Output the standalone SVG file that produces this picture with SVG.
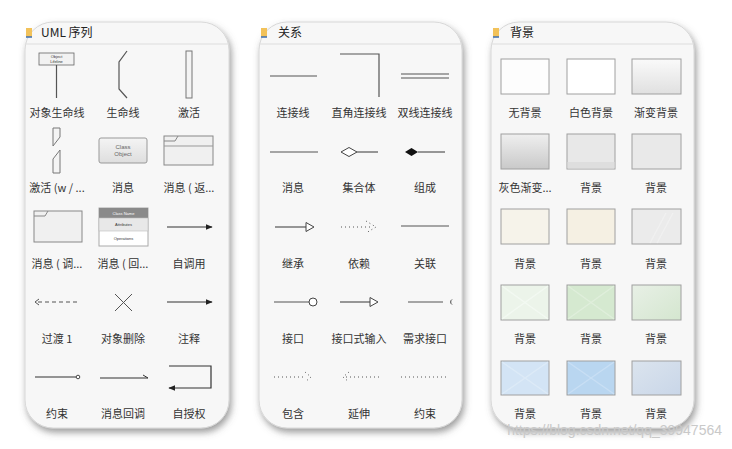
<svg xmlns="http://www.w3.org/2000/svg" width="732" height="449" viewBox="0 0 732 449">
<style>
.lbl{font-family:"Noto Sans CJK SC","Liberation Sans",sans-serif;font-size:11px;fill:#333;text-anchor:middle}
.hdr{font-family:"Noto Sans CJK SC","Liberation Sans",sans-serif;font-size:12px;fill:#222}
.ln{stroke:#555;stroke-width:1.2;fill:none}
.dk{stroke:#333;stroke-width:1.2;fill:none}
.dot{stroke:#555;stroke-width:1;fill:none;stroke-dasharray:1 3}
.bg{stroke:#a0a0a0;stroke-width:1}
.tiny{font-family:"Liberation Sans",sans-serif;font-size:4px;fill:#333;text-anchor:middle}
.sm{font-family:"Liberation Sans",sans-serif;font-size:6px;fill:#666;text-anchor:middle}
.panel{fill:#f7f7f7;stroke:#d8d8d8;stroke-width:1}
.xp{stroke-width:1.5;opacity:0.6;fill:none}
</style>
<defs>
<filter id="sh" x="-10%" y="-10%" width="125%" height="125%">
<feDropShadow dx="2" dy="4" stdDeviation="3.5" flood-color="#5a5a5a" flood-opacity="0.6"/>
</filter>
<marker id="af" viewBox="0 0 10 10" refX="9" refY="5" markerWidth="7" markerHeight="7" orient="auto" markerUnits="userSpaceOnUse">
<path d="M0,1 L10,5 L0,9 Z" fill="#222"/>
</marker>
<linearGradient id="gW" x1="0" y1="0" x2="0" y2="1"><stop offset="0" stop-color="#fafafa"/><stop offset="1" stop-color="#e0e0e0"/></linearGradient>
<linearGradient id="gG" x1="0" y1="0" x2="0" y2="1"><stop offset="0" stop-color="#efefef"/><stop offset="1" stop-color="#c9c9c9"/></linearGradient>
<linearGradient id="gC" x1="0" y1="0" x2="0" y2="1"><stop offset="0" stop-color="#f4f4f4"/><stop offset="1" stop-color="#dedede"/></linearGradient>
<linearGradient id="gGr" x1="0" y1="0" x2="1" y2="1"><stop offset="0" stop-color="#e8f0e6"/><stop offset="1" stop-color="#d4e6cf"/></linearGradient>
<linearGradient id="gBl" x1="0" y1="0" x2="1" y2="1"><stop offset="0" stop-color="#dbe4ee"/><stop offset="1" stop-color="#c9d6e8"/></linearGradient>
</defs>

<!-- panels -->
<g id="panel-uml">
<rect class="panel" x="25" y="22" width="204" height="406" rx="28" filter="url(#sh)"/>
<path d="M25.5,44 V45 H228.5 V44" fill="none"/>
<line x1="26" y1="44" x2="228" y2="44" stroke="#dddddd"/>
<rect x="26" y="28" width="6" height="9" fill="#f2c25a"/><line x1="26" y1="37" x2="32" y2="37" stroke="#3d6fb5" stroke-width="1.5"/>
<text class="hdr" x="41" y="37">UML 序列</text>
</g>
<g id="panel-rel">
<rect class="panel" x="259" y="22" width="203" height="406" rx="28" filter="url(#sh)"/>
<line x1="260" y1="44" x2="461" y2="44" stroke="#dddddd"/>
<rect x="261" y="28" width="6" height="9" fill="#f2c25a"/><line x1="261" y1="37" x2="267" y2="37" stroke="#3d6fb5" stroke-width="1.5"/>
<text class="hdr" x="278" y="37">关系</text>
</g>
<g id="panel-bg">
<rect class="panel" x="491" y="22" width="203" height="406" rx="28" filter="url(#sh)"/>
<line x1="492" y1="44" x2="693" y2="44" stroke="#dddddd"/>
<rect x="493" y="28" width="6" height="9" fill="#f2c25a"/><line x1="493" y1="37" x2="499" y2="37" stroke="#3d6fb5" stroke-width="1.5"/>
<text class="hdr" x="510" y="37">背景</text>
</g>

<!-- UML panel items -->
<g id="u-objlifeline">
<rect x="39" y="53" width="35" height="12" fill="#f2f2f2" stroke="#666" stroke-width="0.8"/>
<text class="tiny" x="56.5" y="58">Object</text><text class="tiny" x="56.5" y="63">Lifeline</text>
<line class="ln" x1="56.5" y1="65" x2="56.5" y2="98"/>
<text class="lbl" x="57" y="117">对象生命线</text>
</g>
<g id="u-lifeline">
<polyline class="ln" points="127,51 119,62 119,89 127,98"/>
<text class="lbl" x="123" y="117">生命线</text>
</g>
<g id="u-activation">
<rect x="186" y="51" width="6" height="47" fill="#f4f4f4" stroke="#777" stroke-width="1"/>
<text class="lbl" x="189" y="117">激活</text>
</g>
<g id="u-act-w">
<polygon points="53,128 60,128 60,137 53,146" fill="#f4f4f4" stroke="#777" stroke-width="1"/>
<polygon points="53,159 60,150 60,173 53,173" fill="#f4f4f4" stroke="#777" stroke-width="1"/>
<text class="lbl" x="57" y="192">激活 (w / ...</text>
</g>
<g id="u-msg">
<rect x="99" y="138" width="48" height="25" rx="2" fill="url(#gC)" stroke="#999" stroke-width="1"/>
<text class="sm" x="123" y="149">Class</text><text class="sm" x="123" y="156">Object</text>
<text class="lbl" x="123" y="192">消息</text>
</g>
<g id="u-msg-ret">
<rect x="164" y="136" width="49" height="29" fill="#f0f0f0" stroke="#888" stroke-width="1"/>
<line x1="164" y1="146" x2="213" y2="146" stroke="#999" stroke-width="1"/>
<polyline points="164,141 175,141 178,136" fill="none" stroke="#888" stroke-width="1"/>
<text class="lbl" x="189" y="192">消息 ( 返...</text>
</g>
<g id="u-msg-call">
<rect x="34" y="211" width="48" height="31" fill="#f0f0f0" stroke="#888" stroke-width="1"/>
<polyline points="34,216 45,216 48,211" fill="none" stroke="#888" stroke-width="1"/>
<text class="lbl" x="57" y="268">消息 ( 调...</text>
</g>
<g id="u-msg-back">
<rect x="99" y="208" width="49" height="38" fill="#fff" stroke="#aaa" stroke-width="1"/>
<rect x="99" y="208" width="49" height="10" fill="#8a8a8a"/>
<rect x="99" y="218" width="49" height="13" fill="#e8e8e8" stroke="#bbb" stroke-width="0.6"/>
<text class="tiny" x="123.5" y="214.5" style="fill:#fff">Class Name</text>
<text class="tiny" x="123.5" y="226">Attributes</text>
<text class="tiny" x="123.5" y="240">Operations</text>
<text class="lbl" x="123" y="268">消息 ( 回...</text>
</g>
<g id="u-selfcall">
<line class="dk" x1="167" y1="227" x2="212" y2="227" marker-end="url(#af)"/>
<text class="lbl" x="189" y="268">自调用</text>
</g>
<g id="u-transition">
<line x1="38" y1="302" x2="79" y2="302" stroke="#555" stroke-width="1.2" stroke-dasharray="4 3"/>
<polyline points="39,299 35,302 39,305" fill="none" stroke="#555" stroke-width="1"/>
<text class="lbl" x="57" y="343">过渡 1</text>
</g>
<g id="u-delete">
<line x1="115" y1="294" x2="132" y2="311" stroke="#555" stroke-width="1"/>
<line x1="132" y1="294" x2="115" y2="311" stroke="#555" stroke-width="1"/>
<text class="lbl" x="123" y="343">对象删除</text>
</g>
<g id="u-note">
<line class="dk" x1="167" y1="302" x2="212" y2="302" marker-end="url(#af)"/>
<text class="lbl" x="189" y="343">注释</text>
</g>
<g id="u-constraint">
<line class="dk" x1="35" y1="377" x2="76" y2="377"/>
<circle cx="78" cy="377" r="1.8" fill="#fff" stroke="#333" stroke-width="0.9"/>
<text class="lbl" x="57" y="418">约束</text>
</g>
<g id="u-callback">
<line class="dk" x1="100" y1="378" x2="148" y2="378"/>
<line x1="148" y1="378" x2="143" y2="375" stroke="#333" stroke-width="1"/>
<text class="lbl" x="123" y="418">消息回调</text>
</g>
<g id="u-selfauth">
<polyline class="dk" points="169,366 211,366 211,388 169,388" marker-end="url(#af)"/>
<text class="lbl" x="189" y="418">自授权</text>
</g>

<!-- Relationship panel items -->
<g id="r-conn">
<line class="ln" x1="270" y1="76" x2="317" y2="76"/>
<text class="lbl" x="293" y="117">连接线</text>
</g>
<g id="r-ortho">
<polyline class="ln" points="340,54 379,54 379,97"/>
<text class="lbl" x="359" y="117">直角连接线</text>
</g>
<g id="r-double">
<line class="ln" x1="401" y1="74" x2="449" y2="74"/>
<line class="ln" x1="401" y1="78" x2="449" y2="78"/>
<text class="lbl" x="425" y="117">双线连接线</text>
</g>
<g id="r-msg">
<line class="ln" x1="270" y1="152" x2="318" y2="152"/>
<text class="lbl" x="293" y="192">消息</text>
</g>
<g id="r-aggr">
<polygon points="341,152 349,147.5 357,152 349,156.5" fill="#fff" stroke="#444" stroke-width="1"/>
<line class="ln" x1="357" y1="152" x2="378" y2="152"/>
<text class="lbl" x="359" y="192">集合体</text>
</g>
<g id="r-comp">
<polygon points="405,152 411.5,148 418,152 411.5,156" fill="#111"/>
<line class="ln" x1="418" y1="152" x2="445" y2="152"/>
<text class="lbl" x="425" y="192">组成</text>
</g>
<g id="r-inherit">
<line class="ln" x1="275" y1="227" x2="306" y2="227"/>
<polygon points="306,222.5 314,227 306,231.5" fill="#fff" stroke="#444" stroke-width="1"/>
<text class="lbl" x="293" y="268">继承</text>
</g>
<g id="r-depend">
<line class="dot" x1="341" y1="227" x2="372" y2="227"/>
<polyline class="dot" points="366,221 376,227 366,233"/>
<text class="lbl" x="359" y="268">依赖</text>
</g>
<g id="r-assoc">
<line class="ln" x1="401" y1="226" x2="449" y2="226"/>
<text class="lbl" x="425" y="268">关联</text>
</g>
<g id="r-iface">
<line class="ln" x1="274" y1="302" x2="309" y2="302"/>
<circle cx="313" cy="302" r="4" fill="#fff" stroke="#444" stroke-width="1"/>
<text class="lbl" x="293" y="343">接口</text>
</g>
<g id="r-iface-in">
<line class="ln" x1="340" y1="302" x2="370" y2="302"/>
<polygon points="370,297.5 378,302 370,306.5" fill="#fff" stroke="#444" stroke-width="1"/>
<text class="lbl" x="359" y="343">接口式输入</text>
</g>
<g id="r-required">
<line class="ln" x1="408" y1="302" x2="443" y2="302"/>
<path d="M452,299.5 A3,3 0 0 0 452,304.5" fill="none" stroke="#444" stroke-width="1"/>
<text class="lbl" x="425" y="343">需求接口</text>
</g>
<g id="r-include">
<line class="dot" x1="274" y1="377" x2="306" y2="377"/>
<polyline class="dot" points="305,372 311,377 305,382"/>
<text class="lbl" x="293" y="418">包含</text>
</g>
<g id="r-extend">
<polyline class="dot" points="349,372 343,377 349,382"/>
<line class="dot" x1="346" y1="377" x2="379" y2="377"/>
<text class="lbl" x="359" y="418">延伸</text>
</g>
<g id="r-constraint">
<line class="dot" x1="401" y1="377" x2="447" y2="377"/>
<text class="lbl" x="425" y="418">约束</text>
</g>

<!-- Background panel items -->
<g id="b-none"><rect class="bg" x="501" y="59" width="48" height="35" fill="#fdfdfd"/><text class="lbl" x="525" y="117">无背景</text></g>
<g id="b-white"><rect class="bg" x="567" y="59" width="48" height="35" fill="#ffffff"/><text class="lbl" x="591" y="117">白色背景</text></g>
<g id="b-grad"><rect class="bg" x="632" y="59" width="49" height="35" fill="url(#gW)"/><text class="lbl" x="656" y="117">渐变背景</text></g>
<g id="b-gray"><rect class="bg" x="501" y="134" width="48" height="35" fill="url(#gG)"/><text class="lbl" x="525" y="192">灰色渐变...</text></g>
<g id="b-2"><rect class="bg" x="567" y="134" width="48" height="35" fill="#e8e8e8"/><rect x="567.5" y="162" width="47" height="6.5" fill="#dedede"/><text class="lbl" x="591" y="192">背景</text></g>
<g id="b-3"><rect class="bg" x="632" y="134" width="49" height="35" fill="#e9e9e9"/><text class="lbl" x="656" y="192">背景</text></g>
<g id="b-4"><rect class="bg" x="501" y="209" width="48" height="35" fill="#f6f3ea"/><text class="lbl" x="525" y="268">背景</text></g>
<g id="b-5"><rect class="bg" x="567" y="209" width="48" height="35" fill="#f5f0e3"/><text class="lbl" x="591" y="268">背景</text></g>
<g id="b-6"><rect class="bg" x="632" y="209" width="49" height="35" fill="#ebebeb"/><path class="xp" d="M650,243 L666,213 M657,243 L673,213" stroke="#f3f3f3"/><text class="lbl" x="656" y="268">背景</text></g>
<g id="b-7"><rect class="bg" x="501" y="285" width="48" height="35" fill="#ecf4ea"/><path class="xp" d="M502,286 L548,319 M548,286 L502,319" stroke="#f7fbf6"/><text class="lbl" x="525" y="343">背景</text></g>
<g id="b-8"><rect class="bg" x="567" y="285" width="48" height="35" fill="#d5e9d0"/><path class="xp" d="M568,286 L614,319 M614,286 L568,319" stroke="#e6f2e3"/><text class="lbl" x="591" y="343">背景</text></g>
<g id="b-9"><rect class="bg" x="632" y="285" width="49" height="35" fill="url(#gGr)"/><text class="lbl" x="656" y="343">背景</text></g>
<g id="b-10"><rect class="bg" x="501" y="361" width="48" height="34" fill="#d3e4f5"/><path class="xp" d="M502,362 L548,394 M548,362 L502,394" stroke="#e3eef9"/><text class="lbl" x="525" y="418">背景</text></g>
<g id="b-11"><rect class="bg" x="567" y="361" width="48" height="34" fill="#b9d6f0"/><path class="xp" d="M568,362 L614,394 M614,362 L568,394" stroke="#d2e5f6"/><text class="lbl" x="591" y="418">背景</text></g>
<g id="b-12"><rect class="bg" x="632" y="361" width="49" height="34" fill="url(#gBl)"/><text class="lbl" x="656" y="418">背景</text></g>

<text x="722" y="435" font-family="Liberation Sans, sans-serif" font-size="14" fill="#c9c9c9" text-anchor="end">https://blog.csdn.net/qq_39947564</text>
<g id="connectors"/>
</svg>
